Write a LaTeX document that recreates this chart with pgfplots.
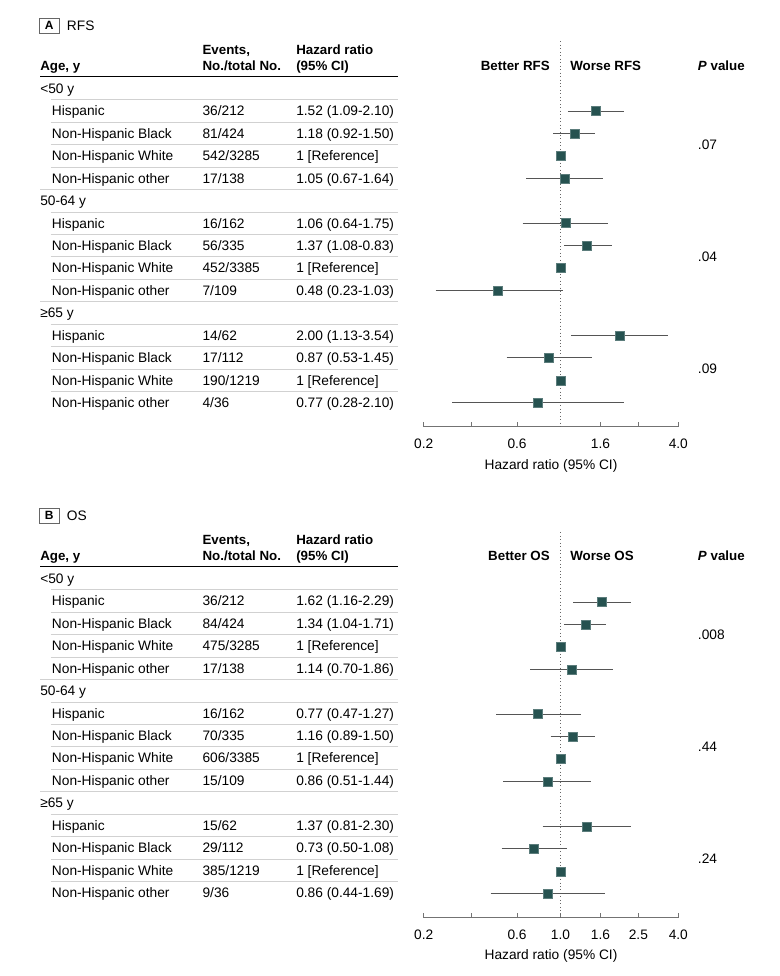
\documentclass[border=0pt]{standalone}
\usepackage{fontspec}
\setmainfont{Liberation Sans}
\usepackage{pgfplots}
\usepackage{pgfplotstable}
\pgfplotsset{compat=1.18}
\definecolor{mk}{HTML}{265250}
\definecolor{cig}{HTML}{555555}

% row index, hazard ratio (markers)
\pgfplotstableread{
r hr
1 1.52
2 1.18
3 1
4 1.05
6 1.06
7 1.37
8 1
9 0.48
11 2.00
12 0.87
13 1
14 0.77
}\rfs
\pgfplotstableread{
r hr
1 1.62
2 1.34
3 1
4 1.14
6 0.77
7 1.16
8 1
9 0.86
11 1.37
12 0.73
13 1
14 0.86
}\os

\tikzset{ci/.style={draw=cig, line width=0.7pt},
  sep/.style={draw=black!18, line width=0.6pt},
  tx/.style={anchor=base west, inner sep=0pt}}

\newcommand{\Row}[5]{%
  \node[tx] at (51.7,{#1+93.3+22.45*#2}) {#3};
  \node[tx] at (202.3,{#1+93.3+22.45*#2}) {#4};
  \node[tx] at (296,{#1+93.3+22.45*#2}) {#5};}
\newcommand{\Grp}[3]{%
  \node[tx] at (40,{#1+93.3+22.45*#2}) {#3};
  \draw[sep] (50.7,{#1+99.7+22.45*#2}) -- (397.7,{#1+99.7+22.45*#2});}
\newcommand{\SepIn}[2]{\draw[sep] (50.7,{#1+99.7+22.45*#2}) -- (397.7,{#1+99.7+22.45*#2});}
\newcommand{\SepOut}[2]{\draw[sep] (40,{#1+99.7+22.45*#2}) -- (397.7,{#1+99.7+22.45*#2});}
\newcommand{\Header}[4]{% offset, letter, title, endpoint word
  \draw[black!60, line width=0.6pt] (39.3,{#1+18.3}) rectangle (59.3,{#1+33.3});
  \node[anchor=base, inner sep=0pt, font=\bfseries\fontsize{9}{11}\selectfont] at (49.3,{#1+29.8}) {#2};
  \node[tx] at (66.7,{#1+30}) {#3};
  \node[tx, font=\bfseries] at (40,{#1+70.7}) {Age, y};
  \node[tx, font=\bfseries] at (202.3,{#1+54.3}) {Events,};
  \node[tx, font=\bfseries] at (202.3,{#1+70.7}) {No./total No.};
  \node[tx, font=\bfseries] at (296,{#1+54.3}) {Hazard ratio};
  \node[tx, font=\bfseries] at (296,{#1+70.7}) {(95\% CI)};
  \draw[black, line width=1.1pt] (40,{#1+76.7}) -- (397.7,{#1+76.7});
  \node[anchor=base east, inner sep=0pt, font=\bfseries] at (550,{#1+70.2}) {Better #4};
  \node[tx, font=\bfseries] at (570,{#1+70.2}) {Worse #4};
  \node[tx, font=\bfseries] at (697.7,{#1+70.2}) {\textit{P} value};
  \node[anchor=base, inner sep=0pt] at (551,{#1+469.8}) {Hazard ratio (95\% CI)};}
\newcommand{\Pval}[3]{\node[tx] at (697.7,{#1+93.3+22.45*(#2)}) {#3};}

\begin{document}
\begin{tikzpicture}[x=0.75pt, y=-0.75pt, font=\fontsize{10.3}{12.3}\selectfont]
\fill[white] (0,0) rectangle (780,976);
\useasboundingbox (0,0) rectangle (780,976);
\coordinate (Aorig) at (423.7,426.7);
\coordinate (Borig) at (423.7,917.7);

% ---------------- Panel A ----------------
\Header{0}{A}{RFS}{RFS}
\Grp{0}{0}{<50 y}
\Row{0}{1}{Hispanic}{36/212}{1.52 (1.09-2.10)}\SepIn{0}{1}
\Row{0}{2}{Non-Hispanic Black}{81/424}{1.18 (0.92-1.50)}\SepIn{0}{2}
\Row{0}{3}{Non-Hispanic White}{542/3285}{1 [Reference]}\SepIn{0}{3}
\Row{0}{4}{Non-Hispanic other}{17/138}{1.05 (0.67-1.64)}\SepOut{0}{4}
\Grp{0}{5}{50-64 y}
\Row{0}{6}{Hispanic}{16/162}{1.06 (0.64-1.75)}\SepIn{0}{6}
\Row{0}{7}{Non-Hispanic Black}{56/335}{1.37 (1.08-0.83)}\SepIn{0}{7}
\Row{0}{8}{Non-Hispanic White}{452/3385}{1 [Reference]}\SepIn{0}{8}
\Row{0}{9}{Non-Hispanic other}{7/109}{0.48 (0.23-1.03)}\SepOut{0}{9}
\Grp{0}{10}{≥65 y}
\Row{0}{11}{Hispanic}{14/62}{2.00 (1.13-3.54)}\SepIn{0}{11}
\Row{0}{12}{Non-Hispanic Black}{17/112}{0.87 (0.53-1.45)}\SepIn{0}{12}
\Row{0}{13}{Non-Hispanic White}{190/1219}{1 [Reference]}\SepIn{0}{13}
\Row{0}{14}{Non-Hispanic other}{4/36}{0.77 (0.28-2.10)}
\Pval{0}{2.5}{.07}
\Pval{0}{7.5}{.04}
\Pval{0}{12.5}{.09}

\begin{axis}[at={(Aorig)}, anchor=south west,
  xmode=log, xmin=0.2, xmax=4, ymin=-15.065, ymax=2.1,
  scale only axis, width=190.95pt, height=288.98pt,
  axis x line=bottom, axis y line=none,
  axis line style={-, draw=black!55, line width=0.8pt},
  tick align=inside, major tick length=3.75pt,
  tick style={draw=black!55, line width=0.8pt},
  minor xtick={},
  xticklabel style={anchor=base, yshift=-16.7pt, font=\fontsize{10.3}{12.3}\selectfont},
  clip=false,
  xtick={0.2,0.35,0.6,1.6,2.5,4}, xticklabels={0.2,,0.6,1.6,,4.0}]
\addplot[draw=black!60, dotted, line width=0.6pt] coordinates {(1,2.1) (1,-15.065)};
\addplot[ci] coordinates {(1.09,-1) (2.10,-1)};
\addplot[ci] coordinates {(0.92,-2) (1.50,-2)};
\addplot[ci] coordinates {(0.67,-4) (1.64,-4)};
\addplot[ci] coordinates {(0.64,-6) (1.75,-6)};
\addplot[ci] coordinates {(1.04,-7) (1.83,-7)};
\addplot[ci] coordinates {(0.23,-9) (1.03,-9)};
\addplot[ci] coordinates {(1.13,-11) (3.54,-11)};
\addplot[ci] coordinates {(0.53,-12) (1.45,-12)};
\addplot[ci] coordinates {(0.28,-14) (2.10,-14)};
\addplot[only marks, mark=square*, mark size=3.375pt,
  mark options={fill=mk, draw=mk!75!white, line width=0.4pt}]
  table[x=hr, y expr=-\thisrow{r}] {\rfs};
\end{axis}

% ---------------- Panel B ----------------
\Header{490}{B}{OS}{OS}
\Grp{490}{0}{<50 y}
\Row{490}{1}{Hispanic}{36/212}{1.62 (1.16-2.29)}\SepIn{490}{1}
\Row{490}{2}{Non-Hispanic Black}{84/424}{1.34 (1.04-1.71)}\SepIn{490}{2}
\Row{490}{3}{Non-Hispanic White}{475/3285}{1 [Reference]}\SepIn{490}{3}
\Row{490}{4}{Non-Hispanic other}{17/138}{1.14 (0.70-1.86)}\SepOut{490}{4}
\Grp{490}{5}{50-64 y}
\Row{490}{6}{Hispanic}{16/162}{0.77 (0.47-1.27)}\SepIn{490}{6}
\Row{490}{7}{Non-Hispanic Black}{70/335}{1.16 (0.89-1.50)}\SepIn{490}{7}
\Row{490}{8}{Non-Hispanic White}{606/3385}{1 [Reference]}\SepIn{490}{8}
\Row{490}{9}{Non-Hispanic other}{15/109}{0.86 (0.51-1.44)}\SepOut{490}{9}
\Grp{490}{10}{≥65 y}
\Row{490}{11}{Hispanic}{15/62}{1.37 (0.81-2.30)}\SepIn{490}{11}
\Row{490}{12}{Non-Hispanic Black}{29/112}{0.73 (0.50-1.08)}\SepIn{490}{12}
\Row{490}{13}{Non-Hispanic White}{385/1219}{1 [Reference]}\SepIn{490}{13}
\Row{490}{14}{Non-Hispanic other}{9/36}{0.86 (0.44-1.69)}
\Pval{490}{2.5}{.008}
\Pval{490}{7.5}{.44}
\Pval{490}{12.5}{.24}

\begin{axis}[at={(Borig)}, anchor=south west,
  xmode=log, xmin=0.2, xmax=4, ymin=-15.065, ymax=2.1,
  scale only axis, width=190.95pt, height=288.98pt,
  axis x line=bottom, axis y line=none,
  axis line style={-, draw=black!55, line width=0.8pt},
  tick align=inside, major tick length=3.75pt,
  tick style={draw=black!55, line width=0.8pt},
  minor xtick={},
  xticklabel style={anchor=base, yshift=-16.7pt, font=\fontsize{10.3}{12.3}\selectfont},
  clip=false,
  xtick={0.2,0.35,0.6,1,1.6,2.5,4}, xticklabels={0.2,,0.6,1.0,1.6,2.5,4.0}]
\addplot[draw=black!60, dotted, line width=0.6pt] coordinates {(1,2.1) (1,-15.065)};
\addplot[ci] coordinates {(1.16,-1) (2.29,-1)};
\addplot[ci] coordinates {(1.04,-2) (1.71,-2)};
\addplot[ci] coordinates {(0.70,-4) (1.86,-4)};
\addplot[ci] coordinates {(0.47,-6) (1.27,-6)};
\addplot[ci] coordinates {(0.89,-7) (1.50,-7)};
\addplot[ci] coordinates {(0.51,-9) (1.44,-9)};
\addplot[ci] coordinates {(0.81,-11) (2.30,-11)};
\addplot[ci] coordinates {(0.50,-12) (1.08,-12)};
\addplot[ci] coordinates {(0.44,-14) (1.69,-14)};
\addplot[only marks, mark=square*, mark size=3.375pt,
  mark options={fill=mk, draw=mk!75!white, line width=0.4pt}]
  table[x=hr, y expr=-\thisrow{r}] {\os};
\end{axis}
\end{tikzpicture}
\end{document}
